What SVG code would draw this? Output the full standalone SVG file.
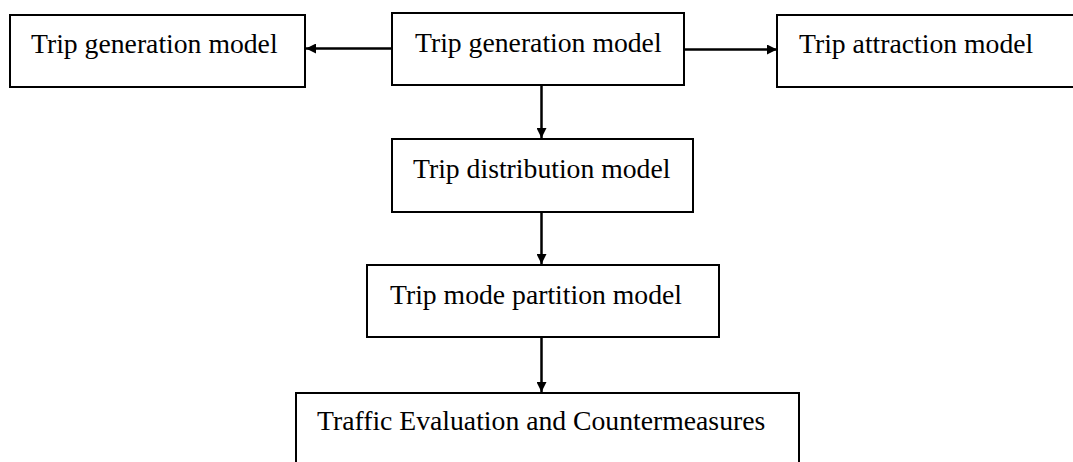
<svg xmlns="http://www.w3.org/2000/svg" width="1073" height="462" viewBox="0 0 1073 462">
<style>
.box{fill:#fff;stroke:#000;stroke-width:2}
.lbl{font-family:"Liberation Serif","Times New Roman",serif;font-size:27.7px;fill:#000}
.con{stroke:#000;stroke-width:2.5;fill:none;marker-end:url(#ah)}
</style>
<defs>
<marker id="ah" markerUnits="userSpaceOnUse" markerWidth="11" markerHeight="10" refX="10" refY="5" orient="auto">
<path d="M0,0 L10,5 L0,10 Z" fill="#000"/>
</marker>
</defs>
<rect width="1073" height="462" fill="#fff"/>
<g id="connectors">
<line class="con" x1="392" y1="48.5" x2="306" y2="48.5"/>
<line class="con" x1="684" y1="49.5" x2="777" y2="49.5"/>
<line class="con" x1="541.5" y1="85" x2="541.5" y2="138"/>
<line class="con" x1="541.5" y1="212" x2="541.5" y2="264"/>
<line class="con" x1="541.5" y1="337" x2="541.5" y2="392"/>
</g>
<g id="gen-left">
<rect class="box" x="10" y="15" width="295" height="72"/>
<text class="lbl" x="31" y="53">Trip generation model</text>
</g>
<g id="gen-center">
<rect class="box" x="392" y="13" width="292" height="72"/>
<text class="lbl" x="415" y="52">Trip generation model</text>
</g>
<g id="attraction">
<rect class="box" x="777" y="15" width="300" height="72"/>
<text class="lbl" x="799" y="53">Trip attraction model</text>
</g>
<g id="distribution">
<rect class="box" x="392" y="139" width="301" height="73"/>
<text class="lbl" x="413" y="178">Trip distribution model</text>
</g>
<g id="mode">
<rect class="box" x="367" y="265" width="352" height="72"/>
<text class="lbl" x="390" y="304">Trip mode partition model</text>
</g>
<g id="evaluation">
<rect class="box" x="296" y="393" width="503" height="80"/>
<text class="lbl" x="317" y="430">Traffic Evaluation and Countermeasures</text>
</g>
</svg>
